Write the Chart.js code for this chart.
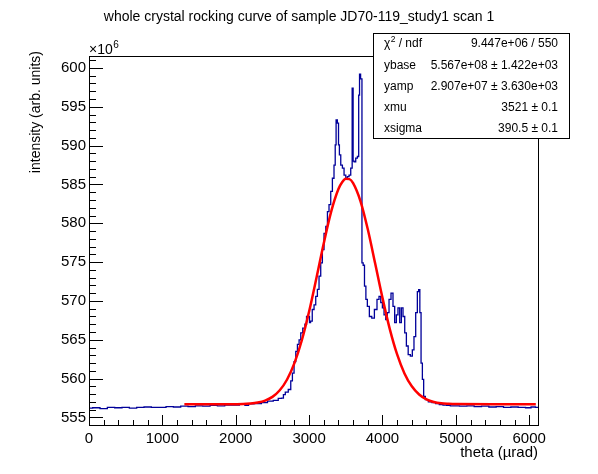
<!DOCTYPE html>
<html>
<head>
<meta charset="utf-8">
<script src="https://cdn.jsdelivr.net/npm/chart.js@4.4.1/dist/chart.umd.min.js"></script>
<style>
  html, body { margin: 0; padding: 0; background: #fff; }
  #wrap { width: 598px; height: 474px; }
</style>
</head>
<body>
<div id="wrap"><canvas id="c" width="598" height="474"></canvas></div>
<script>
// measured histogram (theta in urad, intensity in 1e6 arb. units)
const thetaData = [
  0, 100, 200, 300, 400, 500, 600, 700, 800, 900, 1000, 1100, 1200, 1300, 1400,
  1500, 1600, 1700, 1800, 1900, 2000, 2100, 2150, 2200, 2300, 2400, 2466, 2557,
  2602, 2643, 2657, 2694, 2738, 2762, 2783, 2807, 2830, 2852, 2875, 2898, 2929,
  2956, 2974, 3001, 3010, 3030, 3056, 3079, 3102, 3124, 3147, 3170, 3192, 3215,
  3240, 3260, 3283, 3307, 3328, 3351, 3361, 3375, 3396, 3406, 3420, 3443, 3465,
  3488, 3512, 3533, 3556, 3579, 3595, 3605, 3624, 3647, 3669, 3683, 3692, 3712,
  3729, 3745, 3765, 3783, 3805, 3838, 3870, 3910, 3941, 3965, 3988, 4010, 4033,
  4056, 4078, 4101, 4132, 4155, 4178, 4200, 4223, 4247, 4268, 4292, 4315, 4337,
  4364, 4396, 4418, 4441, 4465, 4486, 4500, 4519, 4533, 4555, 4568, 4601, 4650,
  4700, 4750, 4800, 4850, 4900, 4950, 5000, 5100, 5200, 5300, 5400, 5500, 5600,
  5700, 5800, 5900, 6000, 6050, 6120
];
const intensityData = [
  556.2, 556.25, 556.15, 556.3, 556.25, 556.3, 556.2, 556.3, 556.35, 556.3, 556.3, 556.4, 556.35, 556.45, 556.4,
  556.5, 556.45, 556.55, 556.5, 556.6, 556.6, 556.7, 556.55, 556.75, 556.8, 556.9, 557.1, 557.2,
  557.45, 557.5, 557.95, 558.25, 558.6, 559.7, 560.7, 562.2, 563.5, 564.4, 565.0, 565.9, 566.5,
  567.0, 568.0, 568.0, 567.2, 567.4, 568.9, 569.5, 570.6, 571.5, 573.2, 574.9, 576.6, 578.7,
  579.6, 581.5, 582.4, 584.1, 585.8, 587.5, 590.1, 593.3, 592.9, 590.1, 588.8, 587.5, 587.1,
  586.2, 585.8, 586.0, 586.2, 587.1, 597.4, 588.0, 587.9, 588.4, 588.6, 596.5, 599.2, 598.6,
  574.9, 574.6, 571.9, 570.2, 569.3, 568.0, 567.8, 568.9, 570.2, 570.6, 569.8, 569.1, 568.2,
  567.6, 568.5, 570.2, 571.0, 569.3, 567.2, 568.2, 569.1, 567.2, 569.1, 568.0, 565.9, 564.2,
  563.1, 562.9, 563.7, 565.4, 568.5, 571.2, 571.45, 568.5, 562.0, 559.9, 557.7, 557.3, 557.0,
  556.9, 556.8, 556.65, 556.6, 556.55, 556.5, 556.5, 556.45, 556.5, 556.4, 556.45, 556.35, 556.4,
  556.3, 556.35, 556.3, 556.25, 556.35, 556.3
];

// gaussian fit curve as drawn
const thetaFit = [
  1300, 2000, 2100, 2200, 2300, 2400, 2500, 2600, 2700, 2800, 2900, 3000, 3100, 3200,
  3300, 3400, 3450, 3500, 3550, 3600, 3700, 3800, 3900, 4000, 4100, 4200, 4300, 4400,
  4500, 4600, 4700, 4800, 4900, 5000, 5500, 6090
];
const intensityFit = [
  556.70, 556.71, 556.72, 556.79, 556.92, 557.17, 557.65, 558.50, 559.89, 561.99, 564.91, 568.64, 572.96, 577.44,
  581.47, 584.41, 585.29, 585.73, 585.69, 585.18, 582.87, 579.23, 574.85, 570.40, 566.38, 563.11, 560.67, 559.01,
  557.96, 557.34, 557.00, 556.83, 556.76, 556.72, 556.70, 556.70
];

const xTicks = [0, 1000, 2000, 3000, 4000, 5000, 6000];
const yTicks = [555, 560, 565, 570, 575, 580, 585, 590, 595, 600];

const statNames = ['ybase', 'yamp', 'xmu', 'xsigma'];
const statValues = ['5.567e+08 \u00b1 1.422e+03', '2.907e+07 \u00b1 3.630e+03', '3521 \u00b1 0.1', '390.5 \u00b1 0.1'];
const chi2Value = '9.447e+06 / 550';

const FONT = '"Liberation Sans", Arial, Helvetica, sans-serif';

const rootFrame = {
  id: 'rootFrame',
  afterDraw(chart) {
    const { ctx, chartArea: a, scales: { x, y } } = chart;
    ctx.save();
    ctx.strokeStyle = '#000';
    ctx.fillStyle = '#000';
    ctx.lineWidth = 1;
    ctx.strokeRect(a.left + 0.5, a.top + 0.5, a.right - a.left, a.bottom - a.top);

    // ticks point into the frame, ROOT style
    ctx.beginPath();
    for (let v = 0; v <= x.max; v += 200) {
      const px = Math.round(x.getPixelForValue(v)) + 0.5;
      const len = v % 1000 === 0 ? 10 : 5;
      ctx.moveTo(px, a.bottom);
      ctx.lineTo(px, a.bottom - len);
    }
    for (let v = Math.ceil(y.min); v <= y.max; v += 1) {
      const py = Math.round(y.getPixelForValue(v)) + 0.5;
      const len = v % 5 === 0 ? 14 : 7;
      ctx.moveTo(a.left, py);
      ctx.lineTo(a.left + len, py);
    }
    ctx.stroke();

    // title
    ctx.font = '14px ' + FONT;
    ctx.textAlign = 'center';
    ctx.textBaseline = 'middle';
    ctx.fillText('whole crystal rocking curve of sample JD70-119_study1 scan 1', 299, 17);

    // axis titles
    ctx.font = '15px ' + FONT;
    ctx.textAlign = 'right';
    ctx.fillText('theta (\u00b5rad)', a.right, 453);
    ctx.save();
    ctx.translate(36, 51);
    ctx.rotate(-Math.PI / 2);
    ctx.font = '14px ' + FONT;
    ctx.textAlign = 'right';
    ctx.fillText('intensity (arb. units)', 0, 0);
    ctx.restore();

    // exponent
    ctx.textAlign = 'left';
    ctx.textBaseline = 'alphabetic';
    ctx.font = '14px ' + FONT;
    ctx.fillText('\u00d710', a.left, 54);
    const w10 = ctx.measureText('\u00d710').width;
    ctx.font = '10px ' + FONT;
    ctx.fillText('6', a.left + w10 + 0.5, 48);

    // stats box
    const bx = 373, by = 33, bw = 196, bh = 105;
    ctx.fillStyle = '#fff';
    ctx.fillRect(bx, by, bw, bh);
    ctx.strokeRect(bx + 0.5, by + 0.5, bw, bh);
    ctx.fillStyle = '#000';
    ctx.textBaseline = 'middle';
    const rows = [44, 66, 87, 108, 128.5];
    ctx.font = '12px ' + FONT;
    ctx.textAlign = 'left';
    ctx.fillText('\u03c7', 384, rows[0]);
    const wc = ctx.measureText('\u03c7').width;
    ctx.font = '8.5px ' + FONT;
    ctx.fillText('2', 384 + wc + 0.5, rows[0] - 4);
    ctx.font = '12px ' + FONT;
    ctx.fillText(' / ndf', 384 + wc + 5, rows[0]);
    ctx.textAlign = 'right';
    ctx.fillText(chi2Value, 558, rows[0]);
    statNames.forEach((n, i) => {
      ctx.textAlign = 'left';
      ctx.fillText(n, 384, rows[i + 1]);
      ctx.textAlign = 'right';
      ctx.fillText(statValues[i], 558, rows[i + 1]);
    });
    ctx.restore();
  }
};

const ctx = document.getElementById('c').getContext('2d');
new Chart(ctx, {
  type: 'line',
  data: {
    datasets: [
      {
        label: 'fit',
        data: thetaFit.map((t, i) => ({ x: t, y: intensityFit[i] })),
        borderColor: '#ff0000',
        borderWidth: 2.5,
        pointRadius: 0,
        fill: false,
        cubicInterpolationMode: 'monotone'
      },
      {
        label: 'data',
        data: thetaData.map((t, i) => ({ x: t, y: intensityData[i] })),
        borderColor: '#000099',
        borderWidth: 1.3,
        pointRadius: 0,
        fill: false,
        stepped: 'middle'
      }
    ]
  },
  options: {
    responsive: false,
    animation: false,
    devicePixelRatio: 1,
    layout: { padding: { top: 56, right: 60, left: 0, bottom: 0 } },
    plugins: { legend: { display: false }, tooltip: { enabled: false }, title: { display: false } },
    scales: {
      x: {
        type: 'linear',
        min: 0,
        max: 6120,
        grid: { display: false, drawTicks: false },
        border: { display: false },
        afterBuildTicks: s => { s.ticks = xTicks.map(v => ({ value: v })); },
        afterFit: s => { s.height = 49; },
        ticks: {
          color: '#000',
          font: { family: FONT, size: 15 },
          padding: 5,
          maxRotation: 0,
          autoSkip: false,
          callback: v => String(v)
        }
      },
      y: {
        type: 'linear',
        min: 554.03,
        max: 601.54,
        grid: { display: false, drawTicks: false },
        border: { display: false },
        afterBuildTicks: s => { s.ticks = yTicks.map(v => ({ value: v })); },
        afterFit: s => { s.width = 89; },
        ticks: {
          color: '#000',
          font: { family: FONT, size: 15 },
          padding: 3,
          autoSkip: false,
          callback: v => String(v)
        }
      }
    }
  },
  plugins: [rootFrame]
});
</script>
</body>
</html>
